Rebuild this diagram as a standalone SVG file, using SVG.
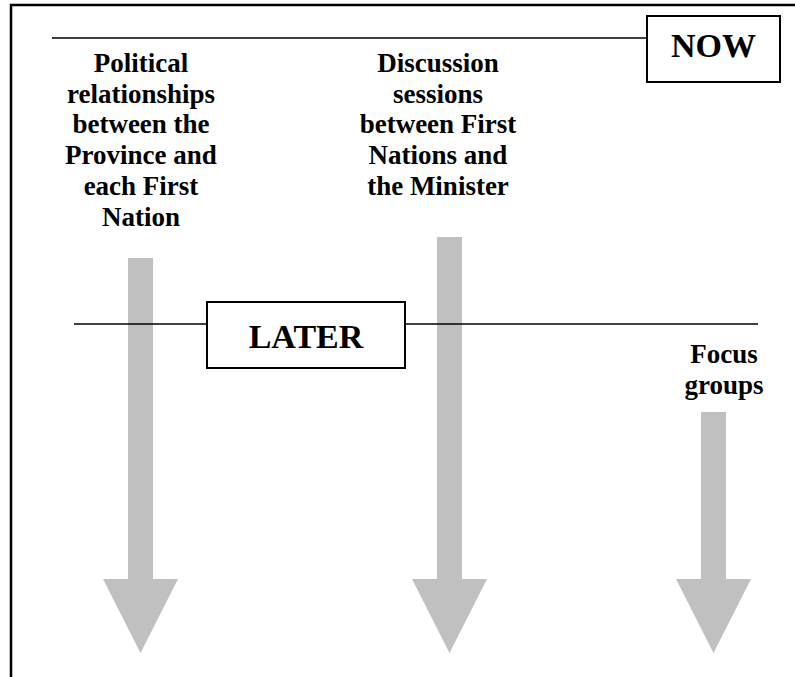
<svg xmlns="http://www.w3.org/2000/svg" width="795" height="677" viewBox="0 0 795 677">
<style>
.lbl{font-family:"Liberation Serif","Times New Roman",serif;font-weight:bold;font-size:27px;fill:#000;text-anchor:middle}
.big{font-family:"Liberation Serif","Times New Roman",serif;font-weight:bold;font-size:34px;fill:#000;text-anchor:middle}
.arrow{fill:#c0c0c0}
.tl{stroke:#000;stroke-width:1.5;fill:none}
.box{fill:#fff;stroke:#000;stroke-width:2}
.frame{stroke:#000;stroke-width:2.5;fill:none}
</style>
<rect width="795" height="677" fill="#fff"/>
<g id="frame">
<path class="frame" d="M11,677 V5 H795"/>
</g>
<g id="connectors">
<path id="arrow1" class="arrow" d="M128,258 H153 V579 H178 L140.5,653 L103,579 H128 Z"/>
<path id="arrow2" class="arrow" d="M437,237 H462 V579 H487 L449.5,653 L412,579 H437 Z"/>
<path id="arrow3" class="arrow" d="M701,412 H726 V579 H751 L713.5,653 L676,579 H701 Z"/>
<line class="tl" x1="52" y1="38" x2="647" y2="38"/>
<line class="tl" x1="74" y1="324" x2="207" y2="324"/>
<line class="tl" x1="405" y1="324" x2="758" y2="324"/>
</g>
<g id="now">
<rect class="box" x="647" y="16" width="133" height="66"/>
<text class="big" x="713.5" y="57">NOW</text>
</g>
<g id="later">
<rect class="box" x="207" y="302" width="198" height="66"/>
<text class="big" x="306" y="348">LATER</text>
</g>
<g id="political">
<text class="lbl" x="141" y="72">Political</text>
<text class="lbl" x="141" y="102.7">relationships</text>
<text class="lbl" x="141" y="133.4">between the</text>
<text class="lbl" x="141" y="164.1">Province and</text>
<text class="lbl" x="141" y="194.8">each First</text>
<text class="lbl" x="141" y="225.5">Nation</text>
</g>
<g id="discussion">
<text class="lbl" x="438" y="72">Discussion</text>
<text class="lbl" x="438" y="102.7">sessions</text>
<text class="lbl" x="438" y="133.4">between First</text>
<text class="lbl" x="438" y="164.1">Nations and</text>
<text class="lbl" x="438" y="194.8">the Minister</text>
</g>
<g id="focus">
<text class="lbl" x="724" y="363">Focus</text>
<text class="lbl" x="724" y="394">groups</text>
</g>
</svg>
